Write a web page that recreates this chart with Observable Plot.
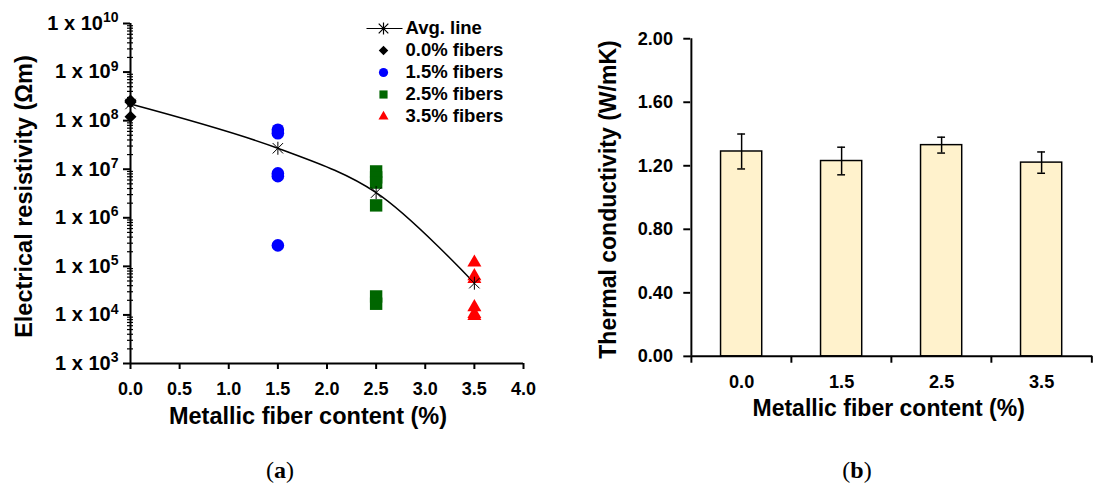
<!DOCTYPE html>
<html><head><meta charset="utf-8">
<script src="https://cdn.jsdelivr.net/npm/d3@7"></script>
<script src="https://cdn.jsdelivr.net/npm/@observablehq/plot@0.6"></script>
<style>
body{margin:0;background:#fff;}
#fig{position:relative;width:1097px;height:495px;overflow:hidden;background:#fff;}
#a{position:absolute;left:0;top:0;}
#leg{position:absolute;left:355px;top:0;}
#b{position:absolute;left:548px;top:0;}
.cap{position:absolute;top:457px;width:80px;text-align:center;font-family:"Liberation Serif","DejaVu Serif",serif;font-size:24px;color:#000;}
</style></head><body>
<div id="fig"><div id="a"></div><div id="leg"></div><div id="b"></div>
<div class="cap" style="left:240px">(<b>a</b>)</div>
<div class="cap" style="left:817px">(<b>b</b>)</div>
</div>
<script>
// ---- data (a) ----
const fiberContent = [0.0, 1.5, 2.5, 3.5];
const seriesLabels = ["0.0% fibers", "1.5% fibers", "2.5% fibers", "3.5% fibers"];
const avgLabel = "Avg. line";
const res00 = [2.6e8, 2.5e8, 2.4e8, 1.2e8];
const res15 = [6.5e7, 5.5e7, 8.2e6, 7.2e6, 2.7e5];
const res25 = [9.0e6, 6.8e6, 5.3e6, 1.8e6, 2.4e4, 1.7e4];
const res35 = [1.2e5, 6.3e4, 5.5e4, 1.45e4, 1.05e4, 9.5e3];
const avgLine = [2.2e8, 2.7e7, 3.3e6, 4.5e4];
const xTicksA = [0, 0.5, 1, 1.5, 2, 2.5, 3, 3.5, 4];
const yExponents = [3, 4, 5, 6, 7, 8, 9, 10];
// ---- data (b) ----
const xLabelsB = ["0.0", "1.5", "2.5", "3.5"];
const conductivity = [1.29, 1.23, 1.33, 1.22];
const condError = [0.11, 0.087, 0.05, 0.067];
const yTicksB = [0, 0.4, 0.8, 1.2, 1.6, 2.0];
const xTitle = "Metallic fiber content (%)";
const yTitleA = "Electrical resistivity (Ωm)";
const yTitleB = "Thermal conductivity (W/mK)";

const fontStack = "'Liberation Sans', Arial, sans-serif";
const colors = ["#000000", "#0000ff", "#006600", "#ff0000"];

const starSymbol = {draw(ctx, size) {
  const r = Math.sqrt(size / Math.PI), d = r * 0.8;
  ctx.moveTo(0, -r); ctx.lineTo(0, r);
  ctx.moveTo(-d, -d); ctx.lineTo(d, d);
  ctx.moveTo(-d, d); ctx.lineTo(d, -d);
}};
const avgGlyph = {draw(ctx, size) {
  const r = Math.sqrt(size / Math.PI), d = r * 0.8;
  ctx.moveTo(-17, 0); ctx.lineTo(19, 0);
  ctx.moveTo(0, -r); ctx.lineTo(0, r);
  ctx.moveTo(-d, -d); ctx.lineTo(d, d);
  ctx.moveTo(-d, d); ctx.lineTo(d, -d);
}};

const ptsOf = (vals, i) => vals.map(v => ({x: fiberContent[i], y: v}));
const avgData = avgLine.map((v, i) => ({x: fiberContent[i], y: v}));
const minorTicks = [];
for (const e of yExponents.slice(0, -1)) for (let k = 2; k <= 9; k++) minorTicks.push(k * 10 ** e);

const baseStyle = {fontFamily: fontStack, fontWeight: "bold", color: "black", background: "transparent", overflow: "visible"};
const titleOpts = {textAnchor: "middle", lineAnchor: "middle", fontSize: 23.5, fontWeight: "bold", fill: "black"};

const plotA = Plot.plot({
  width: 548, height: 430,
  marginLeft: 130, marginRight: 25, marginTop: 23, marginBottom: 67,
  style: baseStyle,
  x: {domain: [0, 4]},
  y: {type: "log", domain: [1e3, 1e10]},
  marks: [
    Plot.axisY({ticks: minorTicks, tickSize: 6, dx: 3, tickFormat: () => "", strokeWidth: 1.2, label: null}),
    Plot.axisY({ticks: yExponents.map(e => 10 ** e), tickSize: 7, tickPadding: 5, fontSize: 20,
      tickFormat: d => "1 x 10|" + Math.round(Math.log10(d)), strokeWidth: 2, label: null}),
    Plot.axisX({ticks: xTicksA, tickSize: 6, tickPadding: 13, fontSize: 18, tickFormat: d3.format(".1f"),
      strokeWidth: 2, label: null}),
    Plot.ruleX([xTicksA[0]], {stroke: "black", strokeWidth: 2}),
    Plot.ruleY([10 ** yExponents[0]], {stroke: "black", strokeWidth: 2}),
    Plot.line(avgData, {x: "x", y: "y", curve: "catmull-rom", stroke: "black", strokeWidth: 1.5}),
    Plot.dot(ptsOf(res15, 1), {x: "x", y: "y", symbol: "circle", r: 6.3, fill: colors[1], stroke: "none"}),
    Plot.dot(ptsOf(res25, 2), {x: "x", y: "y", symbol: "square", r: 7, fill: colors[2], stroke: "none"}),
    Plot.dot(ptsOf(res35, 3), {x: "x", y: "y", symbol: "triangle2", r: 6.7, fill: colors[3], stroke: "none"}),
    Plot.dot(ptsOf(res00, 0), {x: "x", y: "y", symbol: "diamond2", r: 5.4, fill: colors[0], stroke: "none"}),
    Plot.dot(avgData, {x: "x", y: "y", symbol: starSymbol, r: 6.5, fill: "none", stroke: "black", strokeWidth: 1}),
    Plot.text([yTitleA], {...titleOpts, frameAnchor: "left", dx: -106, dy: 3, rotate: -90}),
    Plot.text([xTitle], {...titleOpts, frameAnchor: "bottom", dx: -19, dy: 53})
  ]
});
// superscripts on the log axis labels
d3.select(plotA).selectAll('g[aria-label="y-axis tick label"] text').each(function() {
  const t = this.textContent;
  if (!t.includes("|")) return;
  const [base, exp] = t.split("|");
  const sel = d3.select(this);
  sel.text(null);
  sel.append("tspan").text(base);
  sel.append("tspan").attr("dy", "-0.55em").attr("font-size", "0.7em").text(exp);
});
document.getElementById("a").append(plotA);

// legend
const legendNames = [avgLabel, ...seriesLabels];
const legend = Plot.plot({
  width: 200, height: 135, margin: 0,
  style: baseStyle,
  y: {type: "point", domain: legendNames, range: [27, 117], padding: 0, axis: null},
  marks: [
    Plot.dot([legendNames[0]], {y: d => d, frameAnchor: "left", dx: 28, symbol: avgGlyph, r: 6, fill: "none", stroke: "black", strokeWidth: 1.2}),
    Plot.dot([legendNames[1]], {y: d => d, frameAnchor: "left", dx: 28, symbol: "diamond2", r: 4.3, fill: colors[0]}),
    Plot.dot([legendNames[2]], {y: d => d, frameAnchor: "left", dx: 28, symbol: "circle", r: 4.6, fill: colors[1]}),
    Plot.dot([legendNames[3]], {y: d => d, frameAnchor: "left", dx: 28, symbol: "square", r: 4.6, fill: colors[2]}),
    Plot.dot([legendNames[4]], {y: d => d, frameAnchor: "left", dx: 28, symbol: "triangle2", r: 4.8, fill: colors[3]}),
    Plot.text(legendNames, {y: d => d, text: d => d, frameAnchor: "left", dx: 50, textAnchor: "start", lineAnchor: "middle", fontSize: 18.5, fontWeight: "bold", fill: "black"})
  ]
});
document.getElementById("leg").append(legend);

// chart (b)
const dataB = xLabelsB.map((c, i) => ({c, v: conductivity[i], e: condError[i]}));
const wB = 560, mLB = 145, mRB = 5;
const step = (wB - mLB - mRB) / xLabelsB.length;
const plotB = Plot.plot({
  width: wB, height: 430,
  marginLeft: mLB, marginRight: mRB, marginTop: 39, marginBottom: 67,
  style: baseStyle,
  x: {type: "band", domain: xLabelsB, paddingInner: 0.59, paddingOuter: 0.295},
  y: {domain: [0, 2]},
  marks: [
    Plot.barY(dataB, {x: "c", y: "v", fill: "#fff2cc", stroke: "black", strokeWidth: 1.5}),
    Plot.ruleX(dataB, {x: "c", y1: d => d.v - d.e, y2: d => d.v + d.e, stroke: "black", strokeWidth: 1.5}),
    Plot.tickY(dataB, {x: "c", y: d => d.v + d.e, insetLeft: 17, insetRight: 17, stroke: "black", strokeWidth: 1.5}),
    Plot.tickY(dataB, {x: "c", y: d => d.v - d.e, insetLeft: 17, insetRight: 17, stroke: "black", strokeWidth: 1.5}),
    Plot.axisY({ticks: yTicksB, tickSize: 7, tickPadding: 11, fontSize: 18.5, tickFormat: d3.format(".2f"),
      strokeWidth: 2, label: null}),
    Plot.axisX({tickSize: 6, tickPadding: 13, fontSize: 18.5, strokeOpacity: 0, label: null}),
    Plot.axisX({tickSize: 7, tickFormat: () => "", dx: -step / 2, strokeWidth: 2, label: null}),
    Plot.axisX({ticks: [xLabelsB[xLabelsB.length - 1]], tickSize: 7, tickFormat: () => "", dx: step / 2, strokeWidth: 2, label: null}),
    Plot.ruleY([yTicksB[0]], {stroke: "black", strokeWidth: 2}),
    Plot.ruleX([xLabelsB[0]], {dx: -step / 2, stroke: "black", strokeWidth: 2}),
    Plot.text([yTitleB], {...titleOpts, frameAnchor: "left", dx: -84, dy: 2, rotate: -90}),
    Plot.text([xTitle], {...titleOpts, frameAnchor: "bottom", dx: -3, dy: 53})
  ]
});
document.getElementById("b").append(plotB);
</script>
</body></html>
